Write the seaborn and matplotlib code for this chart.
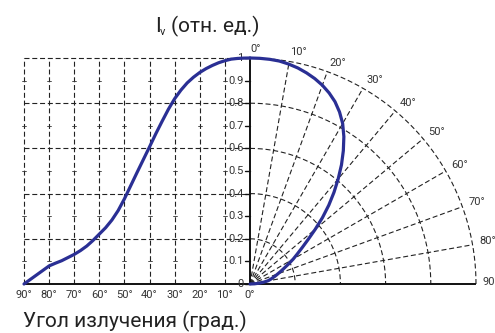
import numpy as np
import matplotlib
matplotlib.use("Agg")
import matplotlib.pyplot as plt
import seaborn as sns
import pandas as pd

# ---- data ----
angles = [0, 2.5, 5, 7.5, 10, 12.5, 15, 17.5, 20, 22.5, 25, 27.5, 30, 32.5, 35, 37.5,
          40, 42.5, 45, 47.5, 50, 52.5, 55, 57.5, 60, 62.5, 65, 67.5, 70, 72.5, 75,
          77.5, 80, 82.5, 85, 87.5, 90]
intensity = [1.0, 0.9995, 0.998, 0.995, 0.988, 0.979, 0.967, 0.953, 0.936, 0.915, 0.89,
             0.858, 0.82, 0.773, 0.72, 0.665, 0.607, 0.55, 0.493, 0.435, 0.377, 0.325,
             0.283, 0.249, 0.221, 0.193, 0.168, 0.148, 0.131, 0.117, 0.103, 0.092,
             0.080, 0.06, 0.04, 0.02, 0.0]
grid_angles = [10, 20, 30, 40, 50, 60, 70, 80, 90]
polar_radii = [0.2, 0.4, 0.6, 0.8, 1.0]
y_ticks = [0, 0.1, 0.2, 0.3, 0.4, 0.5, 0.6, 0.7, 0.8, 0.9, 1.0]
y_tick_labels = ["0", "0.1", "0.2", "0.3", "0.4", "0.5", "0.6", "0.7", "0.8", "0.9", "1"]
x_tick_angles = [90, 80, 70, 60, 50, 40, 30, 20, 10, 0]
polar_label_angles = [0, 10, 20, 30, 40, 50, 60, 70, 80, 90]
polar_labels = ["0°", "10°", "20°", "30°", "40°", "50°", "60°", "70°", "80°", "90"]
title_main = "I"
title_sub = "v"
title_rest = "(отн. ед.)"
xlabel = "Угол излучения (град.)"

sns.set_style("white")
plt.rcParams["font.family"] = ["Roboto", "DejaVu Sans"]

fig = plt.figure(figsize=(4.95, 3.33), dpi=100)
ax = fig.add_axes([0, 0, 1, 1])
S = 226.0


def px(x):
    return (x - 250) / S


def py(y):
    return (284 - y) / S


ax.set_xlim(px(0), px(495))
ax.set_ylim(py(333), py(0))
ax.axis("off")

GRID = dict(color="#222222", lw=0.8, ls=(0, (4.5, 2.5)), zorder=1)
TXT = "#333333"

# Cartesian grid (left half)
for a in grid_angles:
    x = -a / 90.0
    ax.plot([x, x], [0, 1], **GRID)
    for v in [0.1, 0.3, 0.5, 0.7, 0.9]:
        ax.plot([x - 0.009, x + 0.009], [v, v], color="#333333", lw=0.6, zorder=1)
for r in polar_radii:
    ax.plot([-1, 0], [r, r], **GRID)

# Polar grid (right half)
t = np.linspace(0, np.pi / 2, 300)
for r in polar_radii:
    ax.plot(r * np.sin(t), r * np.cos(t), **GRID)
for a in grid_angles[:-1]:
    th = np.deg2rad(a)
    ax.plot([0, np.sin(th)], [0, np.cos(th)], **GRID)

# axes lines
ax.plot([-1, 1], [0, 0], color="#111111", lw=1.4, zorder=3, solid_capstyle="butt")
ax.plot([0, 0], [0, 1.0], color="#111111", lw=1.4, zorder=3, solid_capstyle="butt")

# y ticks and labels
for v, lab in zip(y_ticks, y_tick_labels):
    ax.plot([-0.022, 0], [v, v], color="#111111", lw=1.0, zorder=3)
    ax.text(-0.028, v, lab, ha="right", va="center", fontsize=8, color=TXT)

# x tick labels (left half)
for a in x_tick_angles:
    ax.text(-a / 90.0, py(295), f"{a}°", ha="center", va="center", fontsize=8, color=TXT)

# polar labels
for a, lab in zip(polar_label_angles, polar_labels):
    th = np.deg2rad(a)
    ax.text(1.03 * np.sin(th), 1.03 * np.cos(th) + 0.01, lab, ha="left", va="center",
            fontsize=8, color=TXT)

# curves
deg = np.array(angles, dtype=float)
inten = np.array(intensity)
df_cart = pd.DataFrame({"x": -deg / 90.0, "y": inten})
df_polar = pd.DataFrame({"x": inten * np.sin(np.deg2rad(deg)),
                         "y": inten * np.cos(np.deg2rad(deg))})
CURVE = "#2A2F94"
sns.lineplot(data=df_cart, x="x", y="y", sort=False, estimator=None, color=CURVE,
             lw=2.3, ax=ax, zorder=4)
sns.lineplot(data=df_polar, x="x", y="y", sort=False, estimator=None, color=CURVE,
             lw=2.3, ax=ax, zorder=4)
ax.axis("off")

# titles
ax.text(px(155), py(32), title_main, ha="left", va="baseline", fontsize=15, color="#222222")
ax.text(px(160), py(35), title_sub, ha="left", va="baseline", fontsize=8, color="#222222")
ax.text(px(171), py(32), title_rest, ha="left", va="baseline", fontsize=15, color="#222222")
ax.text(px(135), py(327), xlabel, ha="center", va="baseline", fontsize=15, color="#222222")

fig.savefig("out.png", dpi=100)
